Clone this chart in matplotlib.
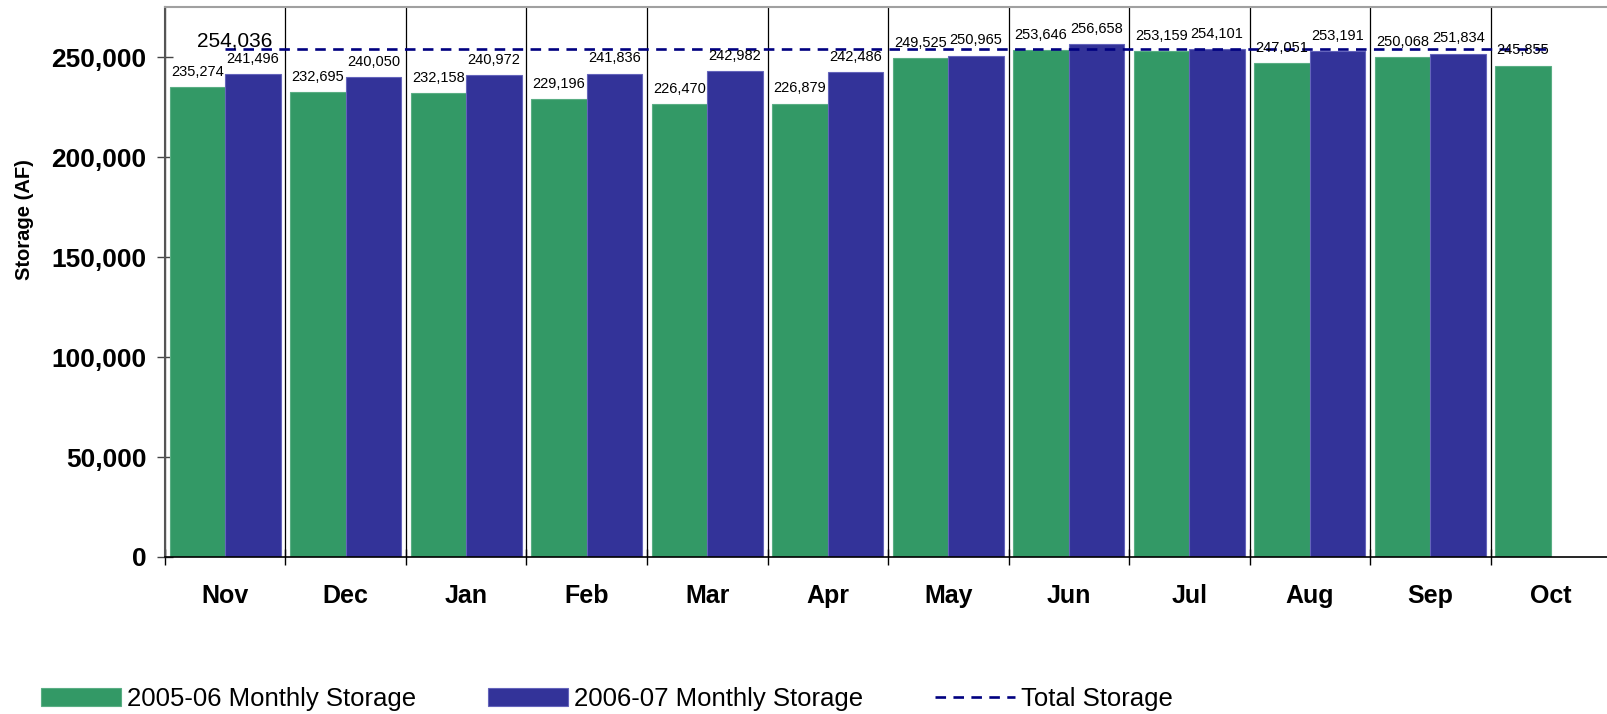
import numpy as np
from matplotlib import pyplot as plt
from matplotlib.ticker import FuncFormatter, FixedLocator

plt.rcParams['font.family'] = ['Liberation Sans', 'DejaVu Sans']

months = ['Nov', 'Dec', 'Jan', 'Feb', 'Mar', 'Apr', 'May', 'Jun', 'Jul', 'Aug', 'Sep', 'Oct']
storage_0506 = [235274, 232695, 232158, 229196, 226470, 226879, 249525, 253646, 253159, 247051, 250068, 245855]
storage_0607 = [241496, 240050, 240972, 241836, 242982, 242486, 250965, 256658, 254101, 253191, 251834]
total_storage = 254036

green = '#339966'
blue = '#333399'
navy = '#000080'

fig = plt.figure(figsize=(16.08, 7.14), dpi=100)
# the last category runs a few pixels past the right edge
ax = fig.add_axes([0.1026, 0.2199, 0.8993, 0.7696])

x = np.arange(len(months))
x2 = np.arange(len(storage_0607))
w = 0.462

bars1 = ax.bar(x - w / 2, storage_0506, w, color=green, edgecolor='#5aae84', linewidth=0.8,
               label='2005-06 Monthly Storage', zorder=2)
bars2 = ax.bar(x2 + w / 2, storage_0607, w, color=blue, edgecolor='#6464bb', linewidth=0.8,
               label='2006-07 Monthly Storage', zorder=2)
total_line, = ax.plot([x[0], x[-1]], [total_storage, total_storage], color=navy, lw=1.9,
                      dashes=(4, 2.8), label='Total Storage', zorder=3)

# value labels above each bar
for bars, vals in [(bars1, storage_0506), (bars2, storage_0607)]:
    for b, v in zip(bars, vals):
        ax.annotate(f'{v:,}', (b.get_x() + b.get_width() / 2, v), xytext=(0, 6),
                    textcoords='offset points', ha='center', va='bottom', fontsize=10.5, zorder=4)
ax.annotate(f'{total_storage:,}', (0.08, total_storage), xytext=(0, -1), textcoords='offset points',
            ha='center', va='bottom', fontsize=15, zorder=4)

ax.set_xlim(-0.5, 11.5)
ax.set_ylim(0, 275000)
ax.set_yticks(np.arange(0, 250001, 50000))
ax.yaxis.set_major_formatter(FuncFormatter(lambda v, p: f'{int(v):,}'))
ax.tick_params(axis='y', direction='inout', length=12, width=1, color='#444444', labelsize=19, pad=7.5)
for t in ax.get_yticklabels():
    t.set_fontweight('bold')

# month names at category centres, separators at category edges
ax.set_xticks(x)
ax.set_xticklabels(months, fontsize=18, fontweight='bold')
ax.xaxis.set_minor_locator(FixedLocator(np.arange(-0.5, 12, 1)))
ax.tick_params(axis='x', which='major', length=0, pad=19.5)
ax.tick_params(axis='x', which='minor', direction='inout', length=12, width=1, color='black')
ax.grid(axis='x', which='minor', color='black', lw=0.9, zorder=1)

ax.set_ylabel('Storage (AF)', fontsize=14.5, fontweight='bold')
ax.yaxis.set_label_coords(-0.0906, 0.614)

ax.spines['top'].set_color('#a0a0a0')
ax.spines['top'].set_linewidth(1.5)
ax.spines['left'].set_color('#555555')
ax.spines['left'].set_linewidth(1.5)
ax.spines['bottom'].set_color('black')
ax.spines['bottom'].set_linewidth(1.2)
ax.spines['right'].set_color('#555555')

fig.legend(handles=[bars1, bars2, total_line], loc='center left', bbox_to_anchor=(0.0255, 0.021),
           ncol=3, frameon=False, fontsize=18.5, handlelength=3.1, handleheight=0.75,
           handletextpad=0.25, columnspacing=2.8, borderpad=0, borderaxespad=0)

plt.savefig('out.png', dpi=100)
